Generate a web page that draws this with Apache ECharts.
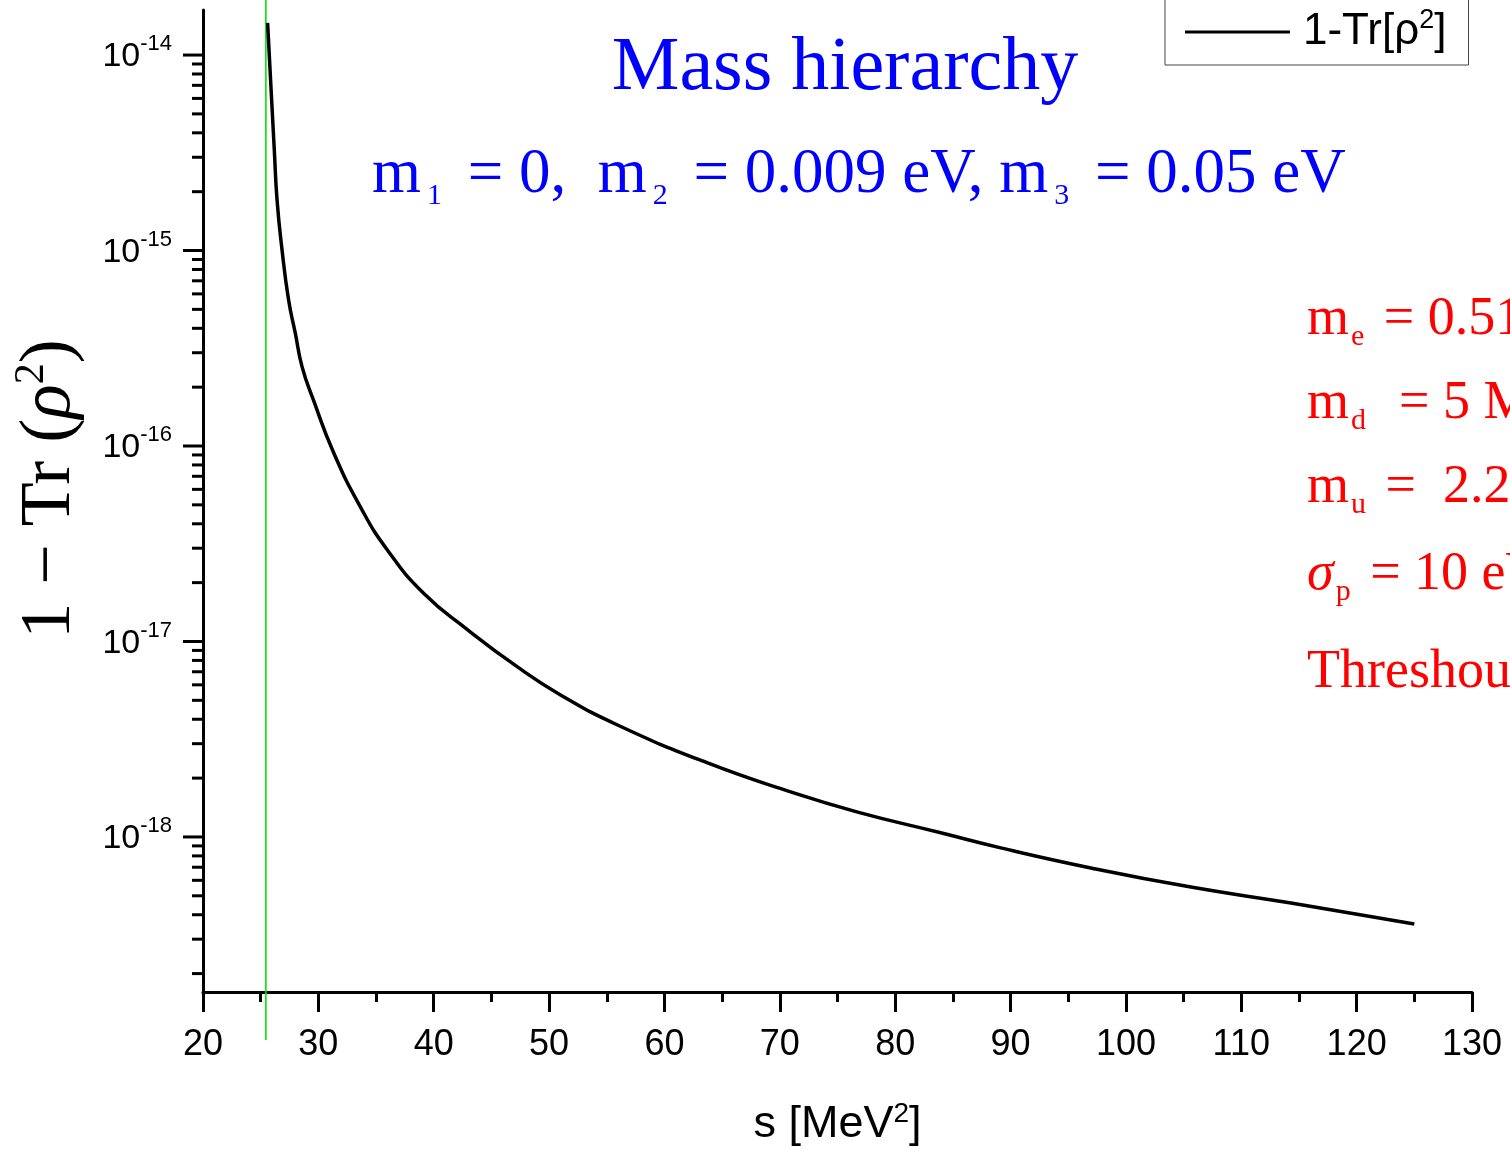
<!DOCTYPE html>
<html>
<head>
<meta charset="utf-8">
<script src="https://cdn.jsdelivr.net/npm/echarts@6/dist/echarts.min.js"></script>
<style>
html,body{margin:0;padding:0;background:#fff;}
#chart{width:1510px;height:1151px;}
</style>
</head>
<body>
<div id="chart"></div>
<script>
// ---- data ----
const sValues = [25.60, 25.95, 26.18, 26.42, 26.85, 27.42, 28.00, 28.59, 29.57, 31.30, 33.64, 35.98, 39.10, 42.92, 47.26, 50.99, 55.93, 63.74, 70.94, 76.75, 83.95, 89.15, 96.96, 105.63, 114.31, 125.0];
const impurity = [1.46e-14, 5.89e-15, 3.27e-15, 1.81e-15, 1.01e-15, 5.58e-16, 3.78e-16, 2.54e-16, 1.72e-16, 9.31e-17, 4.88e-17, 2.94e-17, 1.77e-17, 1.15e-17, 7.41e-18, 5.33e-18, 3.74e-18, 2.39e-18, 1.70e-18, 1.34e-18, 1.05e-18, 8.79e-19, 6.94e-19, 5.54e-19, 4.59e-19, 3.59e-19];
const threshold = [25.45];
const yDecades = [-19, -18, -17, -16, -15, -14];
const yMantissas = [1, 2, 3, 4, 5, 6, 7, 8, 9];
const yMin = 1.61e-19, yMax = 1.70e-14;
const xMin = 20, xMax = 130, xStep = 10;

const lineData = sValues.map((s, i) => [s, impurity[i]]);
const yTickVals = [];
yDecades.forEach(d => yMantissas.forEach(m => {
  const v = m * Math.pow(10, d);
  if (v >= yMin && v <= yMax) yTickVals.push([xMin, v, m === 1 ? 1 : 0]);
}));

const SANS = 'Liberation Sans, Arial, sans-serif';
const SERIF = 'Liberation Serif, Times New Roman, serif';

function redRich() {
  return {
    m: {fontSize: 54, fontFamily: SERIF, fill: '#ff0000', lineHeight: 64},
    i: {fontSize: 54, fontFamily: SERIF, fontStyle: 'italic', fill: '#ff0000', lineHeight: 64},
    u: {fontSize: 30, fontFamily: SERIF, fill: '#ff0000', verticalAlign: 'bottom', lineHeight: 30, padding: [0, 6, 0, 2]}
  };
}

const chart = echarts.init(document.getElementById('chart'), null, {renderer: 'canvas'});
const option = {
  backgroundColor: '#fff',
  animation: false,
  grid: {left: 203, right: 38, top: 10, bottom: 159, containLabel: false, outerBoundsMode: 'none'},
  legend: {
    show: true,
    left: 1165, top: -24,
    padding: [31, 22, 11, 20],
    icon: 'rect',
    itemWidth: 105, itemHeight: 3, itemGap: 10,
    borderColor: '#444', borderWidth: 1, borderRadius: 0,
    data: ['1-Tr[ρ2]'],
    formatter: () => '{a|1-Tr[ρ}{s|2}{a|]}',
    textStyle: {
      color: '#000', padding: [0, 0, 0, 8],
      rich: {
        a: {fontSize: 44, fontFamily: SANS, color: '#000', lineHeight: 50},
        s: {fontSize: 27, fontFamily: SANS, color: '#000', verticalAlign: 'top', lineHeight: 26}
      }
    }
  },
  xAxis: {
    type: 'value', min: xMin, max: xMax, interval: xStep,
    axisLine: {show: true, onZero: false, lineStyle: {color: '#000', width: 3}},
    axisTick: {show: true, inside: false, length: 20, lineStyle: {color: '#000', width: 3}},
    minorTick: {show: true, splitNumber: 2, length: 10, lineStyle: {color: '#000', width: 3}},
    splitLine: {show: false},
    axisLabel: {margin: 35, fontSize: 36, fontFamily: SANS, color: '#000'},
    name: '{a|s [MeV}{s|2}{a|]}',
    nameLocation: 'middle', nameGap: 108,
    nameTextStyle: {
      rich: {
        a: {fontSize: 45, fontFamily: SANS, color: '#000', lineHeight: 50},
        s: {fontSize: 28, fontFamily: SANS, color: '#000', verticalAlign: 'top', lineHeight: 28}
      }
    }
  },
  yAxis: {
    type: 'log', logBase: 10, min: yMin, max: yMax,
    axisLine: {show: true, onZero: false, lineStyle: {color: '#000', width: 3}},
    axisTick: {show: false},
    minorTick: {show: false},
    splitLine: {show: false},
    axisLabel: {
      margin: 31, color: '#000',
      formatter: function (v) {
        const l = Math.log10(v);
        if (Math.abs(l - Math.round(l)) > 1e-6) return '';
        return '{b|10}{s|' + Math.round(l) + '}';
      },
      rich: {
        b: {fontSize: 34, fontFamily: SANS, color: '#000', lineHeight: 44, padding: [4, 0, 0, 0]},
        s: {fontSize: 22, fontFamily: SANS, color: '#000', verticalAlign: 'top', lineHeight: 22}
      }
    }
  },
  series: [
    {
      name: '1-Tr[ρ2]', type: 'line', data: lineData,
      smooth: 0.5, showSymbol: false, symbol: 'none',
      lineStyle: {color: '#000', width: 3.5},
      itemStyle: {color: '#000'},
      z: 5
    },
    {
      name: 'threshold', type: 'custom', clip: false, silent: true, z: 3,
      data: threshold.map(t => [t]),
      renderItem: function (params, api) {
        const x = api.value(0);
        const pTop = api.coord([x, yMax]);
        const pBot = api.coord([x, yMin]);
        return {
          type: 'line',
          shape: {x1: pTop[0], y1: pTop[1] - 10, x2: pBot[0], y2: pBot[1] + 48},
          style: {stroke: '#00e600', lineWidth: 1.6}
        };
      }
    },
    {
      name: 'yticks', type: 'custom', clip: false, silent: true, z: 4,
      data: yTickVals,
      renderItem: function (params, api) {
        const p = api.coord([api.value(0), api.value(1)]);
        const len = api.value(2) ? 20 : 11;
        return {
          type: 'line',
          shape: {x1: p[0] - len, y1: p[1], x2: p[0], y2: p[1]},
          style: {stroke: '#000', lineWidth: 3}
        };
      }
    }
  ],
  graphic: [
    {
      type: 'text', x: 845, y: 107,
      style: {text: 'Mass hierarchy', fill: '#0000ff', font: '76px ' + SERIF, textAlign: 'center', textVerticalAlign: 'bottom'}
    },
    {
      type: 'text', x: 372, y: 175,
      style: {
        text: '{m|m}{u|1}{m| = 0,  m}{u|2}{m| = 0.009 eV, m}{u|3}{m| = 0.05 eV}',
        textAlign: 'left', textVerticalAlign: 'middle',
        rich: {
          m: {fontSize: 63, fontFamily: SERIF, fill: '#0000ff', lineHeight: 72},
          u: {fontSize: 30, fontFamily: SERIF, fill: '#0000ff', verticalAlign: 'bottom', lineHeight: 30, padding: [0, 10, 0, 6]}
        }
      }
    },
    {
      type: 'text', x: 50, y: 489, rotation: Math.PI / 2,
      style: {
        text: '{n|1 − Tr (}{i|ρ}{s|2}{n|)}',
        textAlign: 'center', textVerticalAlign: 'middle',
        rich: {
          n: {fontSize: 72, fontFamily: SERIF, fill: '#000', lineHeight: 78},
          i: {fontSize: 72, fontFamily: SERIF, fontStyle: 'italic', fill: '#000', lineHeight: 78},
          s: {fontSize: 42, fontFamily: SERIF, fill: '#000', verticalAlign: 'top', lineHeight: 42}
        }
      }
    },
    {
      type: 'group', x: 1307, y: 0,
      children: [
        {type: 'text', x: 0, y: 320, style: {text: '{m|m}{u|e}{m| = 0.511 MeV}', textVerticalAlign: 'middle', rich: redRich()}},
        {type: 'text', x: 0, y: 404, style: {text: '{m|m}{u|d}{m|  = 5 MeV}', textVerticalAlign: 'middle', rich: redRich()}},
        {type: 'text', x: 0, y: 488, style: {text: '{m|m}{u|u}{m| =  2.2 MeV}', textVerticalAlign: 'middle', rich: redRich()}},
        {type: 'text', x: 0, y: 575, style: {text: '{i|σ}{u|p}{m| = 10 eV}', textVerticalAlign: 'middle', rich: redRich()}},
        {type: 'text', x: 0, y: 673, style: {text: '{m|Threshould}', textVerticalAlign: 'middle', rich: redRich()}}
      ]
    }
  ]
};
chart.setOption(option);
</script>
</body>
</html>
